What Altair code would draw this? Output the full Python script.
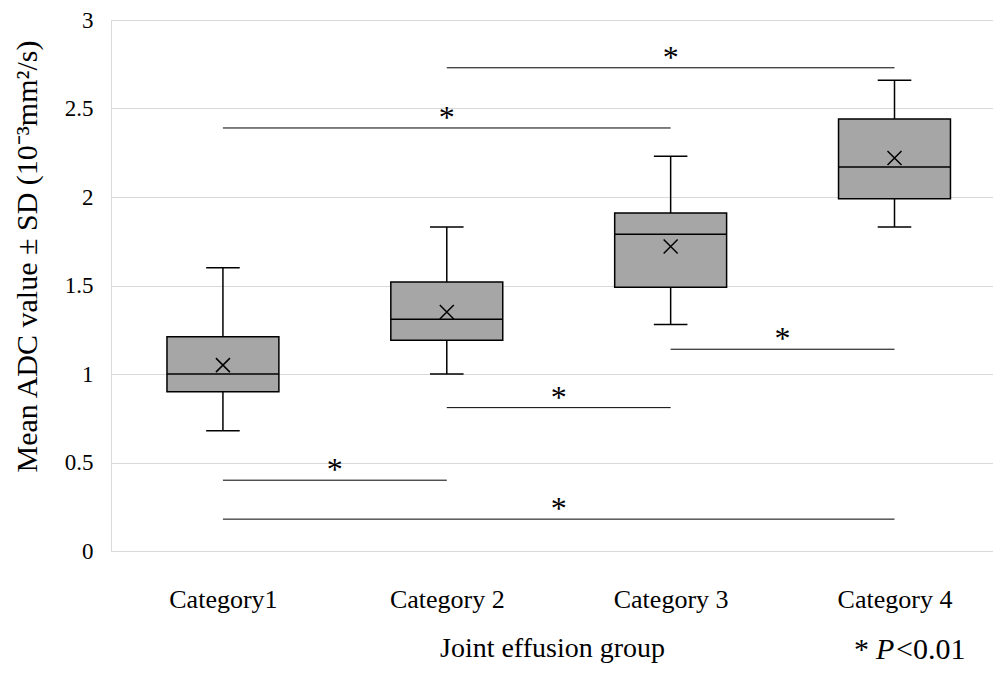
import json
import altair as alt
import pandas as pd

# ---- data ----
cats = [1, 2, 3, 4]
names = ["Category1", "Category 2", "Category 3", "Category 4"]
whisk_lo = [0.68, 1.00, 1.28, 1.83]
q1 = [0.90, 1.19, 1.49, 1.99]
median = [1.00, 1.31, 1.79, 2.17]
q3 = [1.21, 1.52, 1.91, 2.44]
whisk_hi = [1.60, 1.83, 2.23, 2.66]
mean = [1.05, 1.35, 1.72, 2.22]

sig_from = [2, 1, 3, 2, 1, 1]
sig_to = [4, 3, 4, 3, 2, 4]
sig_y = [2.73, 2.39, 1.14, 0.81, 0.40, 0.18]

y_ticks = [0, 0.5, 1, 1.5, 2, 2.5, 3]

FONT = "Liberation Serif"

box_df = pd.DataFrame({"cat": cats, "lo": whisk_lo, "q1": q1, "med": median,
                       "q3": q3, "hi": whisk_hi, "mean": mean})
sig_df = pd.DataFrame({"a": sig_from, "b": sig_to, "y": sig_y})

label_expr = json.dumps(names) + "[datum.value - 1]"

xs = alt.Scale(domain=[0.5, 4.44], nice=False, zero=False)
ys = alt.Scale(domain=[0, 3], nice=False)

x_axis = alt.Axis(values=cats, labelExpr=label_expr, title="Joint effusion group",
                  grid=False, ticks=False, domain=False, labelFont=FONT,
                  labelFontSize=26, labelColor="black", labelPadding=35,
                  titleFont=FONT, titleFontSize=28, titleFontWeight="normal",
                  titleColor="black", titlePadding=22)
y_axis = alt.Axis(values=y_ticks, format="~g", grid=True, gridColor="#d9d9d9",
                  ticks=False, domain=True, domainColor="#d9d9d9",
                  labelFont=FONT, labelFontSize=23, labelColor="black",
                  labelPadding=18, title="Mean ADC value \u00b1 SD (10\u207b\u00b3mm\u00b2/s)",
                  titleFont=FONT, titleFontSize=30, titleFontWeight="normal",
                  titleColor="black", titlePadding=22, titleY=236)

base = alt.Chart(box_df)

whisk = base.mark_rule(color="black", strokeWidth=1.5).encode(
    x=alt.X("cat:Q", scale=xs, axis=x_axis),
    y=alt.Y("lo:Q", scale=ys, axis=y_axis),
    y2="hi:Q")

caps_lo = base.transform_calculate(l="datum.cat - 0.075", r="datum.cat + 0.075").mark_rule(
    color="black", strokeWidth=1.5).encode(x=alt.X("l:Q", scale=xs), x2="r:Q",
                                           y=alt.Y("lo:Q", scale=ys))
caps_hi = base.transform_calculate(l="datum.cat - 0.075", r="datum.cat + 0.075").mark_rule(
    color="black", strokeWidth=1.5).encode(x=alt.X("l:Q", scale=xs), x2="r:Q",
                                           y=alt.Y("hi:Q", scale=ys))

boxes = base.transform_calculate(l="datum.cat - 0.25", r="datum.cat + 0.25").mark_rect(
    fill="#a6a6a6", stroke="black", strokeWidth=1.5).encode(
    x=alt.X("l:Q", scale=xs), x2="r:Q", y=alt.Y("q1:Q", scale=ys), y2="q3:Q")

med = base.transform_calculate(l="datum.cat - 0.25", r="datum.cat + 0.25").mark_rule(
    color="black", strokeWidth=1.5).encode(
    x=alt.X("l:Q", scale=xs), x2="r:Q", y=alt.Y("med:Q", scale=ys))

means = base.mark_point(shape="M-1,-1L1,1M1,-1L-1,1", size=196, filled=False,
                        color="black", strokeWidth=1.5, opacity=1).encode(
    x=alt.X("cat:Q", scale=xs), y=alt.Y("mean:Q", scale=ys))

sig_lines = alt.Chart(sig_df).mark_rule(color="black", strokeWidth=1).encode(
    x=alt.X("a:Q", scale=xs), x2="b:Q", y=alt.Y("y:Q", scale=ys))

sig_star = alt.Chart(sig_df).transform_calculate(m="(datum.a + datum.b) / 2").mark_text(
    text="*", font=FONT, fontSize=32, color="black", baseline="alphabetic", dy=0).encode(
    x=alt.X("m:Q", scale=xs), y=alt.Y("y:Q", scale=ys))

note_star = alt.Chart(sig_df.head(1)).mark_text(
    text="*", font=FONT, fontSize=30, color="black", align="left", baseline="alphabetic").encode(
    x=alt.value(743), y=alt.value(639))
note_p = alt.Chart(sig_df.head(1)).mark_text(
    text="P", font=FONT, fontSize=30, fontStyle="italic", color="black", align="left",
    baseline="alphabetic").encode(x=alt.value(765), y=alt.value(639))
note_v = alt.Chart(sig_df.head(1)).mark_text(
    text="<0.01", font=FONT, fontSize=30, color="black", align="left",
    baseline="alphabetic").encode(x=alt.value(785), y=alt.value(639))

chart = alt.layer(whisk, caps_lo, caps_hi, boxes, med, means, sig_lines, sig_star,
                  note_star, note_p, note_v).properties(
    width=882, height=531,
    autosize=alt.AutoSizeParams(type="none"),
    padding={"left": 103, "top": 12, "right": 0, "bottom": 114},
).configure_view(stroke=None).configure(background="white")

chart.save("out.html", embed_options={"renderer": "svg", "actions": False})
